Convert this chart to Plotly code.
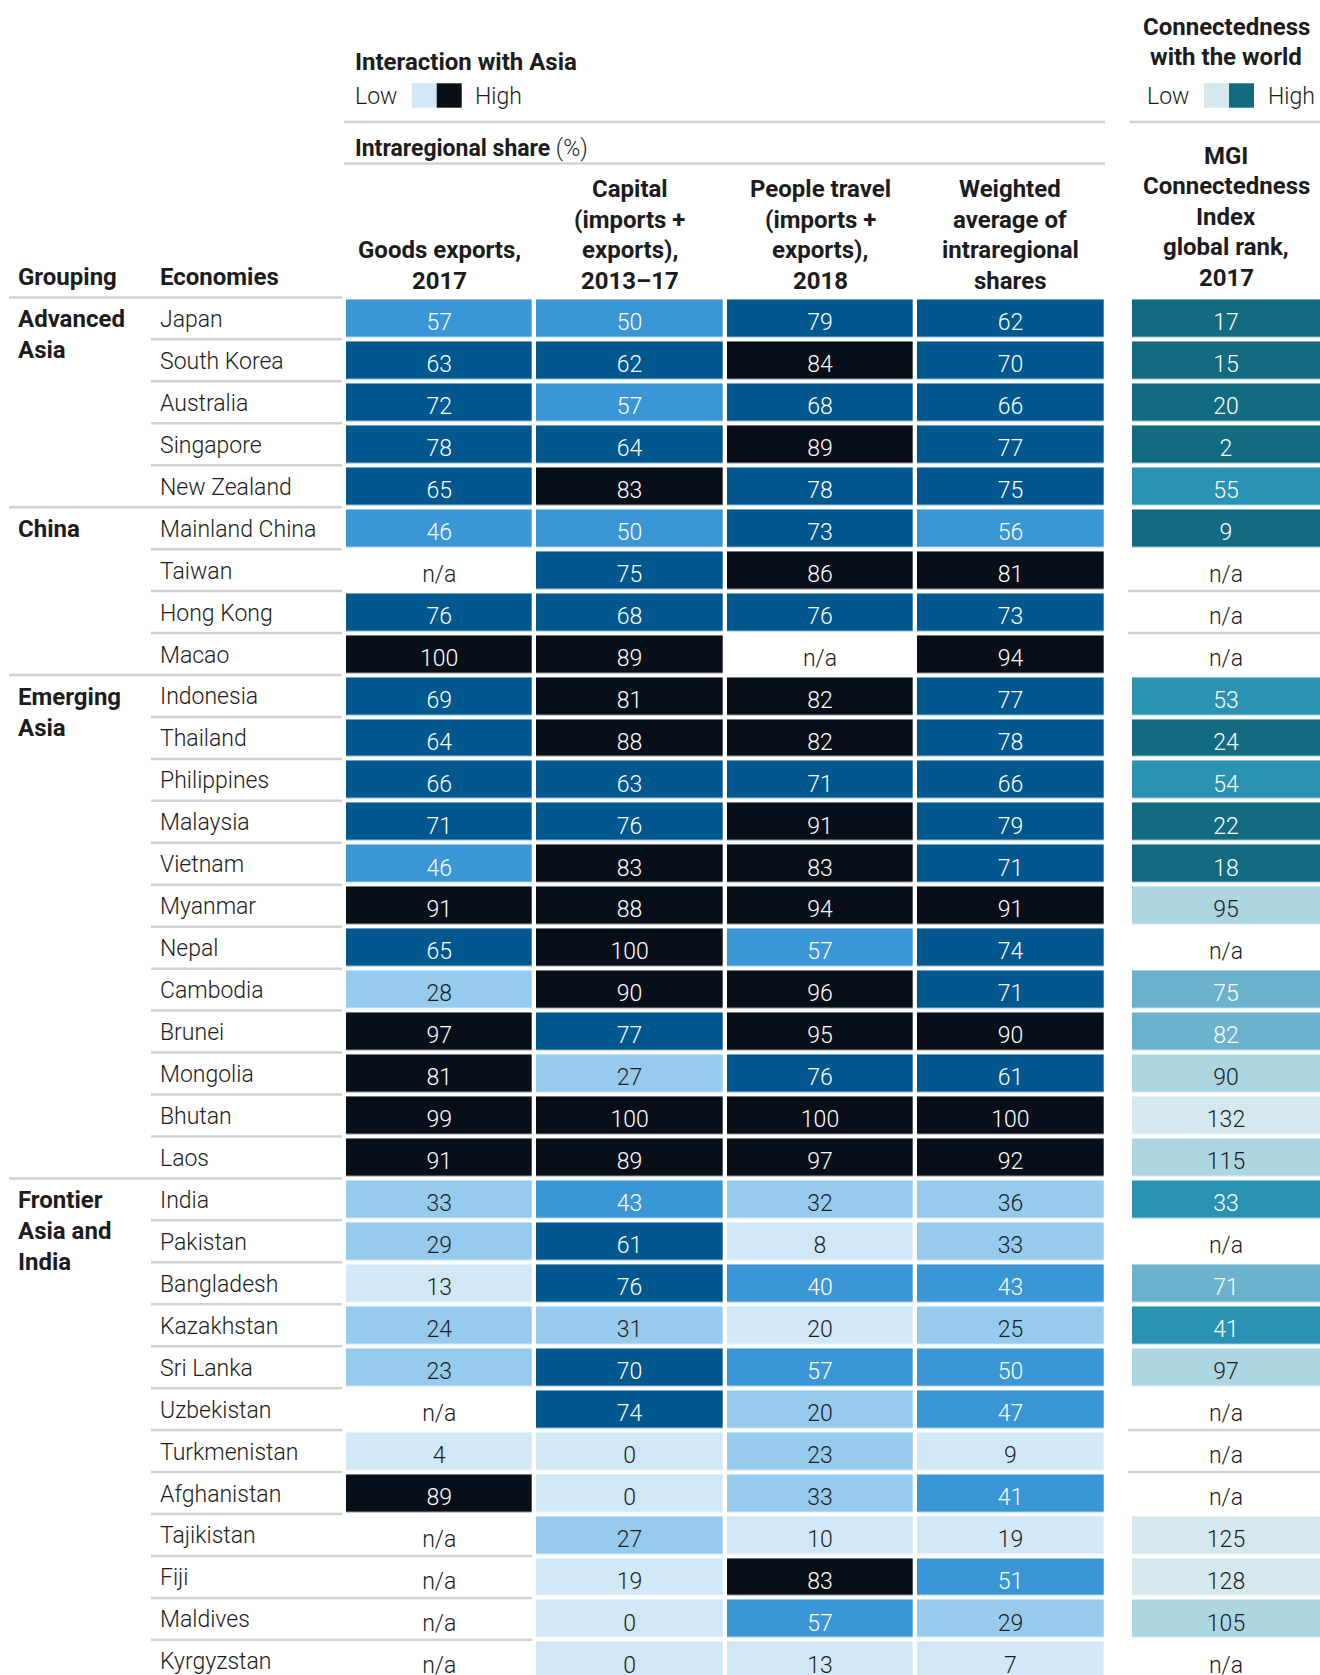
import plotly.graph_objects as go

# ---------------- data ----------------
economies = ["Japan", "South Korea", "Australia", "Singapore", "New Zealand",
             "Mainland China", "Taiwan", "Hong Kong", "Macao",
             "Indonesia", "Thailand", "Philippines", "Malaysia", "Vietnam", "Myanmar",
             "Nepal", "Cambodia", "Brunei", "Mongolia", "Bhutan", "Laos",
             "India", "Pakistan", "Bangladesh", "Kazakhstan", "Sri Lanka", "Uzbekistan",
             "Turkmenistan", "Afghanistan", "Tajikistan", "Fiji", "Maldives", "Kyrgyzstan"]
groupings = [["Advanced", "Asia"], ["China"], ["Emerging", "Asia"], ["Frontier", "Asia and", "India"]]
group_sizes = [5, 4, 12, 12]

goods = [57, 63, 72, 78, 65, 46, None, 76, 100, 69, 64, 66, 71, 46, 91, 65, 28, 97, 81, 99, 91,
         33, 29, 13, 24, 23, None, 4, 89, None, None, None, None]
capital = [50, 62, 57, 64, 83, 50, 75, 68, 89, 81, 88, 63, 76, 83, 88, 100, 90, 77, 27, 100, 89,
           43, 61, 76, 31, 70, 74, 0, 0, 27, 19, 0, 0]
people = [79, 84, 68, 89, 78, 73, 86, 76, None, 82, 82, 71, 91, 83, 94, 57, 96, 95, 76, 100, 97,
          32, 8, 40, 20, 57, 20, 23, 33, 10, 83, 57, 13]
weighted = [62, 70, 66, 77, 75, 56, 81, 73, 94, 77, 78, 66, 79, 71, 91, 74, 71, 90, 61, 100, 92,
            36, 33, 43, 25, 50, 47, 9, 41, 19, 51, 29, 7]
mgi_rank = [17, 15, 20, 2, 55, 9, None, None, None, 53, 24, 54, 22, 18, 95, None, 75, 82, 90, 132, 115,
            33, None, 71, 41, 97, None, None, None, 125, 128, 105, None]

col_headers = [["Goods exports,", "2017"],
               ["Capital", "(imports +", "exports),", "2013–17"],
               ["People travel", "(imports +", "exports),", "2018"],
               ["Weighted", "average of", "intraregional", "shares"]]
mgi_header = ["MGI", "Connectedness", "Index", "global rank,", "2017"]
asia_title = "Interaction with Asia"
world_title = ["Connectedness", "with the world"]

# colour classes (share bins 0-20-40-60-80-100; rank bins for MGI)
BLUE_BREAKS = [20, 40, 60, 80]
TEAL_BREAKS = [30, 60, 85, 120]
# unrounded share just under 20 (shown as 20) for Kazakhstan people travel
TIER_OVERRIDES = {(2, "Kazakhstan"): 0}

# ---------------- styles / layout ----------------
W, H = 1320, 1675
ROW0, PITCH = 318.4, 41.95
COL0, CPITCH = 439.2, 190.4
MGI_X, MGI_W = 1226.0, 192.0
BLUES = ["#d3e8f6", "#96cbee", "#3a96d4", "#00588e", "#080f19"]
TEALS = ["#136b80", "#2a92b2", "#6cb2cc", "#acd6e2", "#d5e8ee"]
DARK = "#1c1c1c"
LINE = "#d2d2d2"
FONT = "Roboto"
FS = 23
FSB = 24

cols = [goods, capital, people, weighted]
n = len(economies)
row_y = [ROW0 + i * PITCH for i in range(n)]
col_x = [COL0 + j * CPITCH for j in range(len(cols))]


def blue_tier(v, j, name):
    if (j, name) in TIER_OVERRIDES:
        return TIER_OVERRIDES[(j, name)]
    return sum(v >= b for b in BLUE_BREAKS)


def teal_tier(v):
    return sum(v > b for b in TEAL_BREAKS)


def discrete_scale(colors):
    k = len(colors)
    s = []
    for i, c in enumerate(colors):
        s.append([i / k, c])
        s.append([(i + 1) / k, c])
    return s


fig = go.Figure()

# blue heatmap
zb = [[(None if cols[j][i] is None else blue_tier(cols[j][i], j, economies[i])) for j in range(len(cols))]
      for i in range(n)]
fig.add_trace(go.Heatmap(z=zb, x=col_x, y=row_y, colorscale=discrete_scale(BLUES), zmin=-0.5, zmax=4.5,
                         xgap=4.3, ygap=4.5, showscale=False, hoverinfo="skip"))
# teal heatmap
zt = [[None if v is None else teal_tier(v)] for v in mgi_rank]
fig.add_trace(go.Heatmap(z=zt, x0=MGI_X, dx=MGI_W, y=row_y, colorscale=discrete_scale(TEALS), zmin=-0.5,
                         zmax=4.5, xgap=4.0, ygap=4.5, showscale=False, hoverinfo="skip"))

# cell texts
NUM_DY = 6.0
tx, ty, tt, tc = [], [], [], []
for j, col in enumerate(cols):
    for i, v in enumerate(col):
        tx.append(col_x[j]); ty.append(row_y[i] + NUM_DY)
        if v is None:
            tt.append("n/a"); tc.append(DARK)
        else:
            tt.append(str(v)); tc.append("#ffffff" if blue_tier(v, j, economies[i]) >= 2 else DARK)
for i, v in enumerate(mgi_rank):
    tx.append(MGI_X); ty.append(row_y[i] + NUM_DY)
    if v is None:
        tt.append("n/a"); tc.append(DARK)
    else:
        tt.append(str(v)); tc.append("#ffffff" if teal_tier(v) <= 2 else DARK)
fig.add_trace(go.Scatter(x=tx, y=ty, mode="text", text=tt,
                         textfont=dict(family=FONT, size=FS, color=tc, weight=300),
                         hoverinfo="skip", showlegend=False))

annotations = []


def ann(x, y, text, anchor="left", bold=False, size=None):
    annotations.append(dict(x=x, y=y, xref="x", yref="y", text=text, showarrow=False,
                            xanchor=anchor, yanchor="middle",
                            font=dict(family=FONT, size=size or (FSB if bold else FS), color=DARK,
                                      weight=700 if bold else 300)))


# economy names
for i, name in enumerate(economies):
    ann(158, row_y[i] + 1, name)
# grouping labels
r = 0
for g, sz in zip(groupings, group_sizes):
    for k, line in enumerate(g):
        ann(16, row_y[r] + 1 + k * 31, line, bold=True)
    r += sz

# headers
ann(16, 277, "Grouping", bold=True)
ann(158, 277, "Economies", bold=True)
for j, lines in enumerate(col_headers):
    m = len(lines)
    for k, line in enumerate(lines):
        ann(col_x[j], 281 - (m - 1 - k) * 30.7, line, anchor="center", bold=True)
for k, line in enumerate(mgi_header):
    ann(MGI_X, 277.5 - (len(mgi_header) - 1 - k) * 30.5, line, anchor="center", bold=True)
ann(352.5, 61.5, asia_title, bold=True)
ann(352.5, 148, "<b>Intraregional share</b> (%)")
for k, line in enumerate(world_title):
    ann(MGI_X, 27 + k * 30, line, anchor="center", bold=True)
ann(353, 96, "Low"); ann(473, 96, "High")
ann(1145, 96, "Low"); ann(1266, 96, "High")

shapes = []


def hline(y, x0, x1, w=2.5):
    shapes.append(dict(type="line", xref="x", yref="y", x0=x0, x1=x1, y0=y, y1=y,
                       line=dict(color=LINE, width=w), layer="below"))


def rect(x0, x1, y0, y1, c):
    shapes.append(dict(type="rect", xref="x", yref="y", x0=x0, x1=x1, y0=y0, y1=y1,
                       fillcolor=c, line=dict(width=0)))


hline(122, 344, 1105); hline(122, 1130, W); hline(163.5, 344, 1105)
# legend swatches
rect(411.7, 436.7, 83.3, 107.7, BLUES[0]); rect(436.7, 461.7, 83.3, 107.7, BLUES[-1])
rect(1204, 1229, 83.3, 107.7, TEALS[-1]); rect(1229, 1254, 83.3, 107.7, TEALS[0])

# row separators
starts = set()
r = 0
for sz in group_sizes:
    starts.add(r); r += sz
for k in range(n + 1):
    yb = ROW0 - PITCH / 2 + k * PITCH
    hline(yb, 9 if (k in starts or k == n) else 151, 342)
    if 0 < k < n:
        for j, col in enumerate(cols):
            if col[k - 1] is None and col[k] is None:
                hline(yb, col_x[j] - CPITCH / 2 - 2, col_x[j] + CPITCH / 2 - 2)
        if mgi_rank[k - 1] is None and mgi_rank[k] is None:
            hline(yb, MGI_X - MGI_W / 2 - 2, W)

fig.update_layout(width=W, height=H, margin=dict(l=0, r=0, t=0, b=0),
                  paper_bgcolor="white", plot_bgcolor="white",
                  xaxis=dict(range=[0, W], visible=False, fixedrange=True),
                  yaxis=dict(range=[H, 0], visible=False, fixedrange=True),
                  annotations=annotations, shapes=shapes, showlegend=False)

fig.write_html("out.html", config={"displayModeBar": False},
               post_script="document.body.style.margin='0';")
